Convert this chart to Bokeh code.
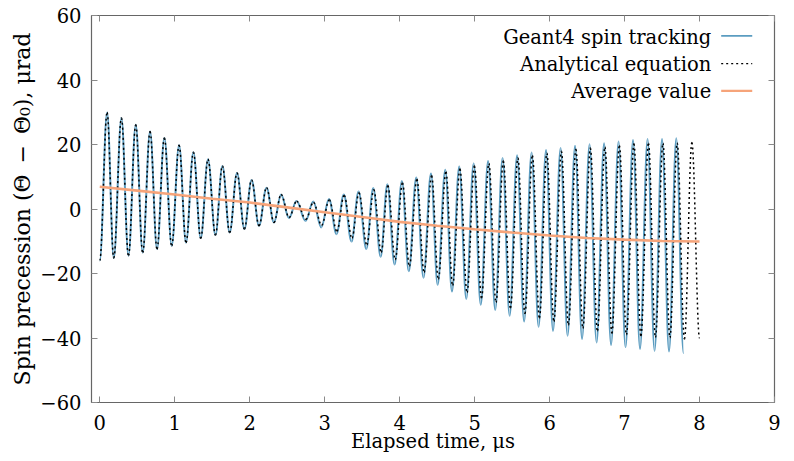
import numpy as np
from bokeh.plotting import figure
from bokeh.models import Range1d, LinearAxis, FixedTicker, Label, Arrow, ColumnDataSource
from bokeh.embed import file_html
from bokeh.resources import INLINE

# ---------------- data ----------------
# Geant4 spin tracking: successive extrema (trough, peak, trough, ...)
g4_t = [0.000, 0.098, 0.187, 0.289, 0.383, 0.480, 0.573, 0.671, 0.764, 0.862,
        0.960, 1.058, 1.151, 1.249, 1.347, 1.444, 1.543, 1.636, 1.733, 1.831,
        1.929, 2.025, 2.124, 2.225, 2.324, 2.418, 2.524, 2.625, 2.745, 2.848,
        2.955, 3.058, 3.158, 3.255, 3.358, 3.452, 3.556, 3.648, 3.747, 3.836,
        3.933, 4.030, 4.122, 4.222, 4.318, 4.418, 4.507, 4.609, 4.698, 4.795,
        4.889, 4.987, 5.082, 5.180, 5.275, 5.373, 5.467, 5.567, 5.660, 5.760,
        5.853, 5.953, 6.046, 6.147, 6.240, 6.340, 6.433, 6.533, 6.627, 6.727,
        6.820, 6.920, 7.013, 7.113, 7.206, 7.307, 7.400, 7.500, 7.593, 7.690,
        7.787]
g4_v = [-16.0, 29.9, -15.2, 28.2, -14.5, 26.1, -13.5, 24.0, -12.4, 22.0,
        -11.4, 19.8, -10.4, 17.6, -9.1, 15.4, -8.1, 13.3, -7.3, 11.2,
        -6.2, 9.0, -5.2, 6.6, -4.2, 4.5, -2.8, 2.5, -3.7, 2.3,
        -5.7, 3.1, -7.8, 4.5, -10.1, 5.4, -12.4, 6.5, -14.8, 7.7,
        -17.2, 8.7, -19.3, 9.8, -21.3, 11.0, -23.5, 12.2, -25.6, 13.2,
        -27.9, 14.1, -29.7, 14.9, -31.3, 15.8, -33.1, 16.7, -34.9, 17.5,
        -36.5, 18.3, -37.8, 18.9, -39.3, 19.6, -40.3, 20.1, -41.4, 20.4,
        -42.2, 20.9, -42.9, 21.4, -43.4, 21.7, -44.0, 21.7, -44.2, 21.9,
        -44.7]

# Analytical equation: successive extrema
an_t = [0.000, 0.098, 0.187, 0.289, 0.383, 0.480, 0.573, 0.671, 0.764, 0.862,
        0.960, 1.058, 1.151, 1.249, 1.347, 1.444, 1.543, 1.636, 1.733, 1.831,
        1.929, 2.025, 2.124, 2.225, 2.324, 2.419, 2.526, 2.627, 2.748, 2.851,
        2.959, 3.062, 3.163, 3.260, 3.364, 3.458, 3.562, 3.655, 3.754, 3.843,
        3.941, 4.038, 4.130, 4.230, 4.326, 4.427, 4.516, 4.618, 4.707, 4.804,
        4.899, 4.997, 5.092, 5.190, 5.285, 5.383, 5.478, 5.578, 5.671, 5.771,
        5.864, 5.964, 6.057, 6.158, 6.251, 6.351, 6.444, 6.544, 6.638, 6.738,
        6.831, 6.931, 7.025, 7.125, 7.218, 7.319, 7.412, 7.512, 7.605, 7.702,
        7.799, 7.898, 8.000]
an_v = [-16.0, 29.9, -15.2, 28.2, -14.5, 26.1, -13.5, 24.0, -12.4, 22.0,
        -11.4, 19.8, -10.4, 17.6, -9.1, 15.4, -8.1, 13.3, -7.3, 11.2,
        -6.2, 9.0, -5.2, 6.6, -4.2, 4.5, -2.6, 2.4, -3.2, 2.0,
        -5.0, 2.8, -6.9, 4.2, -9.0, 5.0, -11.1, 6.0, -13.4, 7.2,
        -15.7, 8.1, -17.7, 9.2, -19.6, 10.3, -21.7, 11.5, -23.7, 12.4,
        -25.9, 13.3, -27.6, 14.1, -29.0, 14.9, -30.7, 15.8, -32.4, 16.6,
        -33.8, 17.3, -34.9, 17.9, -36.0, 18.5, -37.0, 18.9, -37.8, 19.2,
        -38.5, 19.7, -39.0, 20.2, -39.3, 20.4, -39.8, 20.4, -39.9, 20.5,
        -40.3, 20.6, -40.0]

# Average value
avg_t = [0.0, 0.5, 1.0, 1.5, 2.0, 2.5, 3.0, 3.5, 4.0, 4.5, 5.0, 5.5, 6.0, 6.5, 7.0, 7.5, 8.0]
avg_v = [6.9, 5.7, 4.5, 3.2, 2.0, 0.5, -1.0, -2.5, -4.0, -5.2, -6.3, -7.3, -8.2, -9.0, -9.5, -9.9, -10.1]

x_ticks = [0, 1, 2, 3, 4, 5, 6, 7, 8, 9]
y_ticks = [-60, -40, -20, 0, 20, 40, 60]
y_tick_labels = ["\u221260", "\u221240", "\u221220", "0", "20", "40", "60"]

legend_labels = ["Geant4 spin tracking", "Analytical equation", "Average value"]
x_label = "Elapsed time, \u03bcs"
y_label = "Spin precession (\u0398\u2002\u2212\u2002\u0398\u2080), \u03bcrad"

# ---------------- styling ----------------
FONT = "DejaVu Serif"
FS = "19.5px"
BLUE = "#5b9cc0"
ORANGE = "#f6a47a"
AXIS_C = "#666666"
TICK_C = "#8a8a8a"


def bezier_source(t, v, k=0.364):
    t = np.asarray(t, dtype=float)
    v = np.asarray(v, dtype=float)
    h = np.diff(t)
    return ColumnDataSource(dict(
        x0=t[:-1], y0=v[:-1], x1=t[1:], y1=v[1:],
        cx0=t[:-1] + k * h, cy0=v[:-1], cx1=t[1:] - k * h, cy1=v[1:]))


p = figure(width=794, height=461, output_backend="svg", toolbar_location=None,
           x_range=Range1d(-0.11, 9.0), y_range=Range1d(-60, 60),
           min_border_left=91, min_border_right=20, min_border_top=15, min_border_bottom=59,
           x_axis_label=x_label, y_axis_label=y_label)
p.grid.visible = False
p.outline_line_color = AXIS_C
p.outline_line_width = 1.2
p.background_fill_color = "white"
p.border_fill_color = "white"

# mirrored axes (ticks only, no labels)
p.add_layout(LinearAxis(), "above")
p.add_layout(LinearAxis(), "right")

for ax in p.xaxis:
    ax.ticker = FixedTicker(ticks=x_ticks)
for ax in p.yaxis:
    ax.ticker = FixedTicker(ticks=y_ticks)
    ax.major_label_overrides = {tv: tl for tv, tl in zip(y_ticks, y_tick_labels)}

for ax in p.axis:
    ax.axis_line_color = None
    ax.major_tick_in = 6
    ax.major_tick_out = 0
    ax.major_tick_line_color = TICK_C
    ax.major_tick_line_width = 1
    ax.minor_tick_line_color = None
    ax.major_label_text_font = FONT
    ax.major_label_text_font_size = FS
    ax.major_label_text_color = "black"
    ax.axis_label_text_font = FONT
    ax.axis_label_text_font_size = FS
    ax.axis_label_text_font_style = "normal"
    ax.axis_label_text_color = "black"

for ax in (p.above[0], p.right[0]):
    ax.major_label_text_font_size = "1px"
    ax.major_label_text_color = None
    ax.major_label_standoff = 0

p.left[0].major_label_standoff = 10
p.left[0].axis_label_standoff = 2
p.left[0].axis_label_text_font_size = "22px"
p.below[0].major_label_standoff = 12
p.below[0].axis_label_standoff = -3

# ---------------- series ----------------
p.bezier(x0="x0", y0="y0", x1="x1", y1="y1", cx0="cx0", cy0="cy0", cx1="cx1", cy1="cy1",
         source=bezier_source(g4_t, g4_v), line_color=BLUE, line_width=2)
p.bezier(x0="x0", y0="y0", x1="x1", y1="y1", cx0="cx0", cy0="cy0", cx1="cx1", cy1="cy1",
         source=bezier_source(an_t, an_v), line_color="black", line_width=1.5, line_dash="2 3")
p.line(avg_t, avg_v, line_color=ORANGE, line_width=2.6)

# ---------------- legend (text then sample, right aligned) ----------------
leg_text_x = 8.156
leg_text_y = [53.3, 44.9, 36.5]
leg_line_y = [53.7, 45.1, 36.65]
leg_styles = [dict(line_color=BLUE, line_width=1.8),
              dict(line_color="black", line_width=1.3, line_dash="2 3"),
              dict(line_color=ORANGE, line_width=2.2)]
for txt, ty, ly, st in zip(legend_labels, leg_text_y, leg_line_y, leg_styles):
    p.add_layout(Label(x=leg_text_x, y=ty, text=txt, text_align="right",
                       text_baseline="middle", text_font=FONT,
                       text_font_size=FS, text_color="black"))
    p.add_layout(Arrow(end=None, x_start=8.289, y_start=ly, x_end=8.703, y_end=ly, **st))

open("out.html", "w").write(file_html(p, INLINE))
